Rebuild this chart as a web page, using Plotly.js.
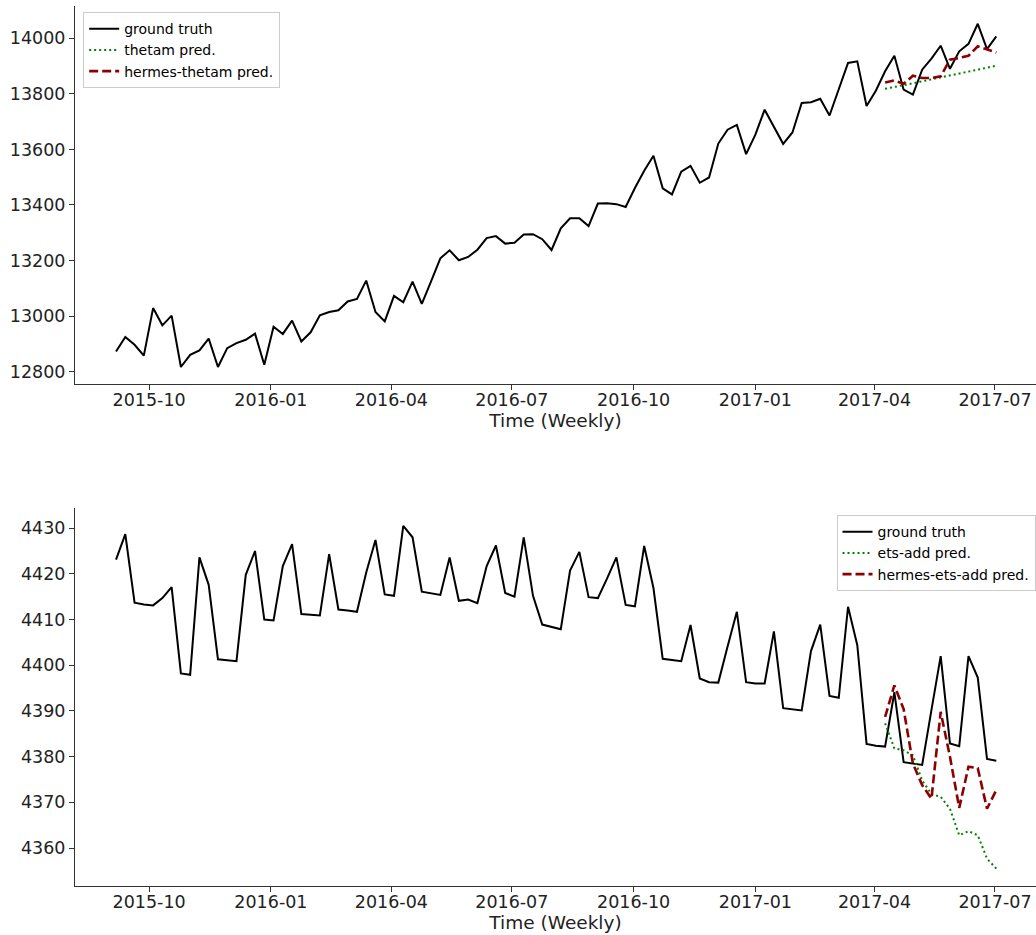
<!DOCTYPE html>
<html>
<head>
<meta charset="utf-8">
<script src="https://cdn.plot.ly/plotly-3.0.1.min.js"></script>
<style>html,body{margin:0;padding:0;background:#fff;}#chart{width:1036px;height:935px;}</style>
</head>
<body>
<div id="chart"></div>
<script>
// Weekly time index (first week and number of weeks)
const startDate = '2015-09-06';
const nWeeks = 96;
const predStart = 83; // index of first prediction week

// Top panel: ground truth and predictions
const truthTop = [12873,12925,12897,12858,13029,12967,13002,12817,12861,12877,
12919,12817,12885,12903,12915,12937,12825,12962,12936,12984,
12909,12942,13003,13015,13021,13053,13062,13128,13015,12981,
13073,13050,13124,13044,13125,13208,13237,13201,13213,13239,
13281,13288,13261,13264,13294,13295,13277,13238,13316,13352,
13352,13324,13405,13406,13403,13393,13461,13523,13577,13460,
13438,13520,13541,13480,13499,13621,13671,13688,13583,13653,
13743,13683,13620,13661,13767,13770,13782,13722,13815,13911,
13917,13756,13811,13881,13937,13815,13797,13887,13927,13973,
13890,13953,13980,14052,13961,14007];
const thetamPred = [13818,13824,13831,13838,13845,13852,13858,13866,13873,13880,13887,13894,13901];
const hermesThetamPred = [13841,13848,13836,13865,13857,13857,13863,13923,13929,13937,13971,13961,13949];

// Bottom panel: ground truth and predictions
const truthBottom = [4423.1,4428.7,4413.7,4413.3,4413.1,4414.7,4417.1,4398.2,4397.9,4423.6,
4417.6,4401.3,4401.1,4400.9,4419.8,4425.0,4410.0,4409.8,4421.7,4426.5,
4411.2,4411.0,4410.9,4424.3,4412.2,4412.0,4411.7,4420.3,4427.4,4415.5,
4415.2,4430.5,4428.0,4416.1,4415.8,4415.4,4423.6,4414.1,4414.4,4413.6,
4421.7,4426.2,4415.8,4415.0,4428.0,4415.2,4408.9,4408.4,4407.9,4420.7,
4424.8,4414.9,4414.7,4419.0,4423.6,4413.2,4412.9,4426.1,4416.9,4401.4,
4401.1,4400.9,4408.8,4397.1,4396.3,4396.2,4404.1,4411.7,4396.3,4396.0,
4396.0,4407.4,4390.6,4390.3,4390.1,4403.1,4408.9,4393.3,4392.9,4412.8,
4404.4,4382.8,4382.4,4382.2,4394.1,4378.8,4378.5,4378.2,4390.2,4402.0,
4382.9,4382.3,4402.0,4397.3,4379.5,4379.1];
const etsAddPred = [4387.3,4381.8,4381.4,4380.3,4374.8,4371.8,4371.2,4368.6,4362.8,4363.7,4362.8,4357.7,4355.5];
const hermesEtsAddPred = [4388.7,4395.6,4390.4,4378.5,4373.8,4370.8,4389.8,4380.0,4368.8,4377.8,4377.5,4368.6,4372.7];

// Build weekly dates
const dates = [];
{
  const d0 = new Date(startDate + 'T00:00:00Z');
  for (let i = 0; i < nWeeks; i++) {
    const d = new Date(d0.getTime() + i * 7 * 86400000);
    dates.push(d.toISOString().slice(0, 10));
  }
}
const predDates = dates.slice(predStart);

const FONT = 'DejaVu Sans, sans-serif';
const black = {color: '#000000', width: 2};
const greenDot = {color: '#008000', width: 2, dash: '2px,3px'};
const redDash = {color: '#8b0000', width: 2.6, dash: '9px,4px'};

const traces = [
  {x: dates, y: truthTop, mode: 'lines', name: 'ground truth', line: black, xaxis: 'x', yaxis: 'y', legend: 'legend'},
  {x: predDates, y: thetamPred, mode: 'lines', name: 'thetam pred.', line: greenDot, xaxis: 'x', yaxis: 'y', legend: 'legend'},
  {x: predDates, y: hermesThetamPred, mode: 'lines', name: 'hermes-thetam pred.', line: redDash, xaxis: 'x', yaxis: 'y', legend: 'legend'},
  {x: dates, y: truthBottom, mode: 'lines', name: 'ground truth', line: black, xaxis: 'x2', yaxis: 'y2', legend: 'legend2'},
  {x: predDates, y: etsAddPred, mode: 'lines', name: 'ets-add pred.', line: greenDot, xaxis: 'x2', yaxis: 'y2', legend: 'legend2'},
  {x: predDates, y: hermesEtsAddPred, mode: 'lines', name: 'hermes-ets-add pred.', line: redDash, xaxis: 'x2', yaxis: 'y2', legend: 'legend2'}
];

const xRange = ['2015-08-06', '2017-08-01'];
function xAxis(anchor) {
  return {
    anchor: anchor, domain: [0, 1], range: xRange, type: 'date',
    tickformat: '%Y-%m', dtick: 'M3', tick0: '2015-10-01',
    ticks: 'outside', ticklen: 5, tickwidth: 1, tickcolor: '#333',
    ticklabelstandoff: -5,
    showline: true, linecolor: '#333', linewidth: 1, showgrid: false, zeroline: false,
    tickfont: {family: FONT, size: 17.5, color: '#222'},
    title: {text: 'Time (Weekly)', font: {family: FONT, size: 18.5, color: '#222'}, standoff: 2}
  };
}
function yAxis(anchor, domain, range, dtick) {
  return {
    anchor: anchor, domain: domain, range: range, dtick: dtick, tickformat: 'd',
    ticks: 'outside', ticklen: 5, tickwidth: 1, tickcolor: '#333',
    showline: true, linecolor: '#333', linewidth: 1, showgrid: false, zeroline: false,
    tickfont: {family: FONT, size: 17.5, color: '#222'}
  };
}

const legendStyle = {
  bgcolor: 'rgba(255,255,255,0.85)', bordercolor: '#cccccc', borderwidth: 1,
  font: {family: FONT, size: 14, color: '#000'}, itemwidth: 30, tracegroupgap: 0
};

const layout = {
  width: 1036, height: 935,
  margin: {l: 75, r: 0, t: 6, b: 49},
  paper_bgcolor: '#ffffff', plot_bgcolor: '#ffffff',
  showlegend: true,
  xaxis: xAxis('y'),
  yaxis: yAxis('x', [0.5705, 1], [12756, 14116], 200),
  xaxis2: xAxis('y2'),
  yaxis2: yAxis('x2', [0, 0.4295], [4351.7, 4434.4], 10),
  legend: Object.assign({x: 0.0085, y: 0.993, xanchor: 'left', yanchor: 'top'}, legendStyle),
  legend2: Object.assign({x: 0.9995, y: 0.4215, xanchor: 'right', yanchor: 'top'}, legendStyle)
};

Plotly.newPlot('chart', traces, layout, {displayModeBar: false, staticPlot: true});
</script>
</body>
</html>
